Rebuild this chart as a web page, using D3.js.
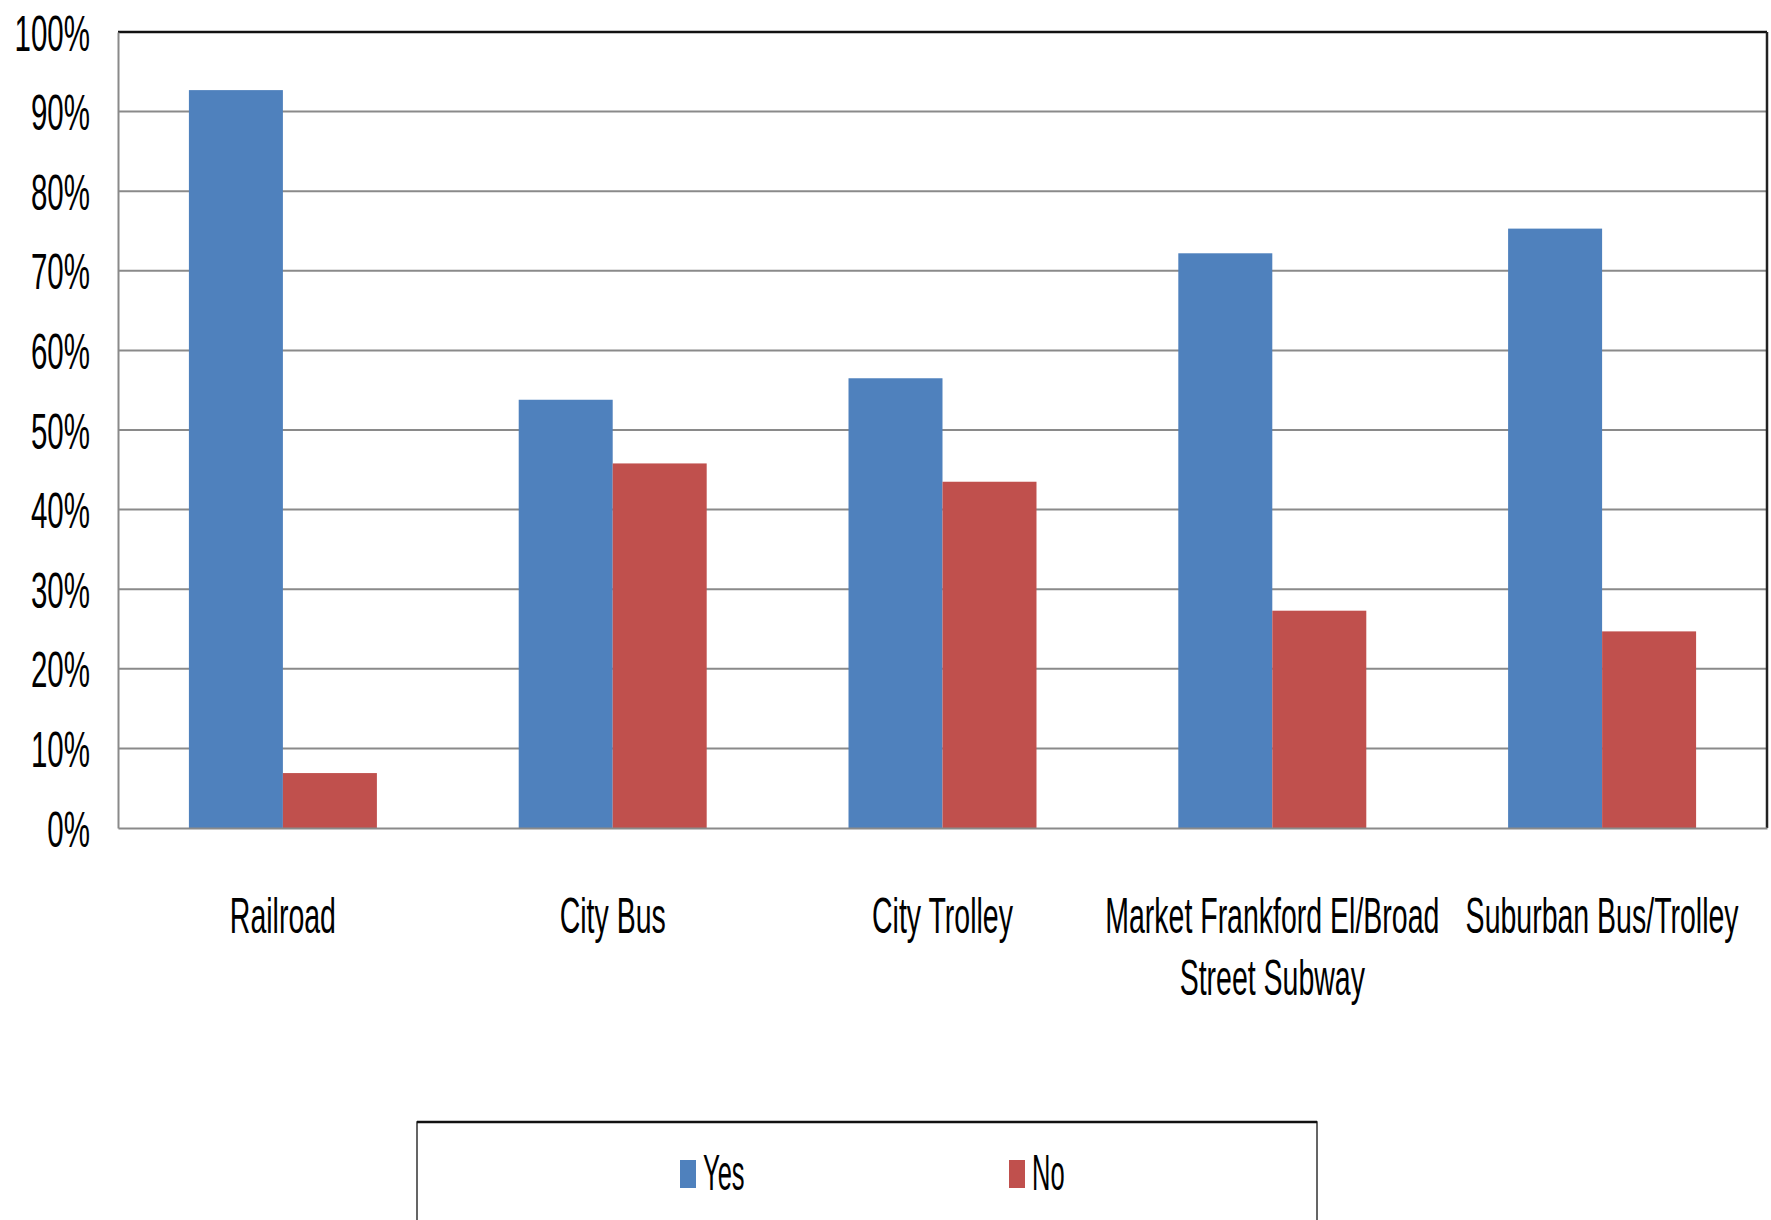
<!DOCTYPE html>
<html>
<head>
<meta charset="utf-8">
<script src="https://cdn.jsdelivr.net/npm/d3@7"></script>
<style>
  html, body { margin: 0; padding: 0; background: #fff; }
  svg { display: block; }
  text { font-family: "Liberation Sans", Arial, sans-serif; fill: #000; }
</style>
</head>
<body>
<svg id="chart" width="1771" height="1220"></svg>
<script>
const categories = ["Railroad", "City Bus", "City Trolley", "Market Frankford El/Broad Street Subway", "Suburban Bus/Trolley"];
const seriesNames = ["Yes", "No"];
const yesValues = [92.7, 53.8, 56.5, 72.2, 75.3];
const noValues = [6.9, 45.8, 43.5, 27.3, 24.7];
const yTicks = [0, 10, 20, 30, 40, 50, 60, 70, 80, 90, 100];
const seriesColors = ["#4F81BD", "#C0504D"];

const W = 1771, H = 1220;
const margin = { left: 118, top: 32, right: 4, bottom: 392 };
const pw = W - margin.left - margin.right;
const ph = H - margin.top - margin.bottom;

const svg = d3.select("#chart");
svg.append("rect").attr("width", W).attr("height", H).attr("fill", "#fff");
const g = svg.append("g").attr("transform", `translate(${margin.left},${margin.top})`);

const x0 = d3.scaleBand().domain(categories).range([0, pw]).paddingInner(0.43).paddingOuter(0.215);
const x1 = d3.scaleBand().domain(seriesNames).range([0, x0.bandwidth()]).padding(0);
const y = d3.scaleLinear().domain([0, 100]).range([ph, 0]);
const color = d3.scaleOrdinal().domain(seriesNames).range(seriesColors);

// gridlines
g.append("g").selectAll("line")
  .data(yTicks.filter(d => d > 0 && d < 100))
  .join("line")
  .attr("x1", 0).attr("x2", pw)
  .attr("y1", d => y(d)).attr("y2", d => y(d))
  .attr("stroke", "#8a8a8a").attr("stroke-width", 2);

// bars
const rows = categories.map((c, i) => ({ cat: c, vals: [
  { s: "Yes", v: yesValues[i] }, { s: "No", v: noValues[i] }
]}));
g.append("g").selectAll("g")
  .data(rows)
  .join("g")
  .attr("transform", d => `translate(${x0(d.cat)},0)`)
  .selectAll("rect")
  .data(d => d.vals)
  .join("rect")
  .attr("x", d => x1(d.s))
  .attr("y", d => y(d.v))
  .attr("width", x1.bandwidth())
  .attr("height", d => y(0) - y(d.v))
  .attr("fill", d => color(d.s));

// plot borders
g.append("line").attr("x1", 0).attr("x2", pw).attr("y1", 0).attr("y2", 0)
  .attr("stroke", "#111").attr("stroke-width", 2.5);
g.append("line").attr("x1", pw).attr("x2", pw).attr("y1", 0).attr("y2", ph)
  .attr("stroke", "#222").attr("stroke-width", 2.5);

// y axis
const yAxis = g.append("g").call(
  d3.axisLeft(y).tickValues(yTicks).tickFormat(d => d + "%").tickSize(0).tickPadding(0)
);
yAxis.select(".domain").attr("stroke", "#8a8a8a").attr("stroke-width", 2);
yAxis.selectAll("text")
  .attr("x", null)
  .attr("dy", "0.36em")
  .attr("transform", "translate(-28,0) scale(0.59,1)")
  .style("font-size", "50px")
  .style("font-family", "'Liberation Sans', Arial, sans-serif")
  .attr("fill", "#000");

// x axis
const xAxis = g.append("g").attr("transform", `translate(0,${ph})`).call(
  d3.axisBottom(x0).tickSize(0).tickPadding(0)
);
xAxis.select(".domain").attr("stroke", "#8a8a8a").attr("stroke-width", 2);
const labelScale = 0.57, maxLabel = 345, lineH = 62;
xAxis.selectAll("text").each(function(d) {
  const t = d3.select(this);
  t.text(null).attr("y", null).attr("dy", null)
    .attr("transform", `translate(0,105) scale(${labelScale},1)`)
    .style("font-size", "50px")
    .style("font-family", "'Liberation Sans', Arial, sans-serif")
    .attr("fill", "#000");
  const words = d.split(" ");
  let line = [];
  let lineNo = 0;
  let tspan = t.append("tspan").attr("x", 0).attr("dy", 0);
  words.forEach(w => {
    line.push(w);
    tspan.text(line.join(" "));
    if (tspan.node().getComputedTextLength() * labelScale > maxLabel && line.length > 1) {
      line.pop();
      tspan.text(line.join(" "));
      line = [w];
      lineNo++;
      tspan = t.append("tspan").attr("x", 0).attr("dy", lineH).text(w);
    }
  });
});

// legend
const legend = svg.append("g");
legend.append("rect").attr("x", 417).attr("y", 1122).attr("width", 900).attr("height", 200)
  .attr("fill", "#fff").attr("stroke", "#333").attr("stroke-width", 1.5);
legend.append("line").attr("x1", 417).attr("x2", 1317).attr("y1", 1122).attr("y2", 1122)
  .attr("stroke", "#111").attr("stroke-width", 2.5);
const legendX = d3.scalePoint().domain(seriesNames).range([680, 1009]);
const li = legend.selectAll("g.item").data(seriesNames).join("g")
  .attr("class", "item")
  .attr("transform", d => `translate(${legendX(d)},1160)`);
li.append("rect").attr("width", 16).attr("height", 28).attr("fill", d => color(d));
li.append("text")
  .attr("transform", "translate(23,30) scale(0.51,1)")
  .style("font-size", "50px")
  .text(d => d);
</script>
</body>
</html>
